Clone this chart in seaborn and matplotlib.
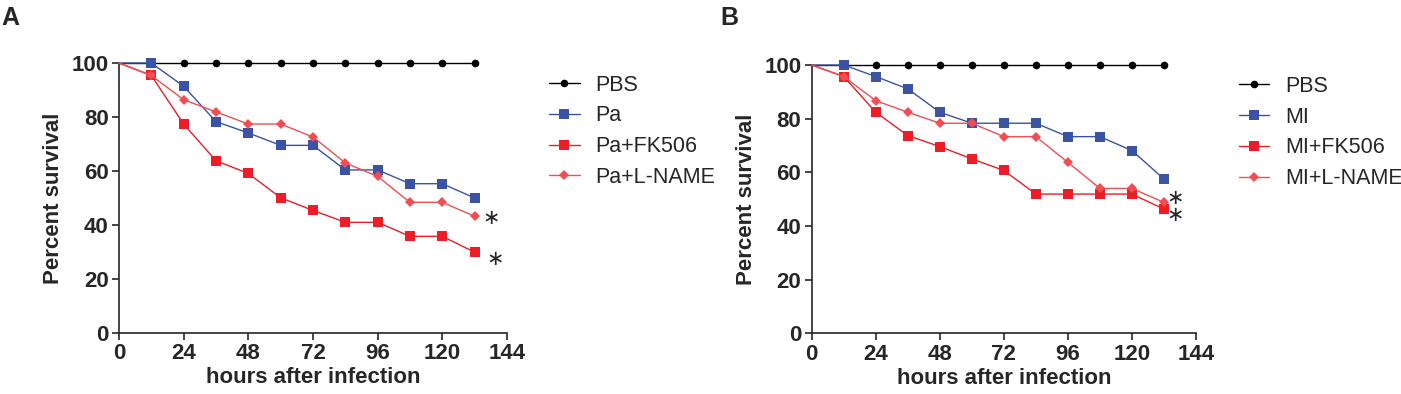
import numpy as np
import pandas as pd
import matplotlib
matplotlib.use('Agg')
import matplotlib.pyplot as plt
import seaborn as sns

sns.set_style('ticks')
plt.rcParams['font.family'] = ['Liberation Sans', 'DejaVu Sans']

# time points (hours), first point at 0 has no marker
hours = [0, 12, 24, 36, 48, 60, 72, 84, 96, 108, 120, 132]

# panel A
pbs_a = [100, 100, 100, 100, 100, 100, 100, 100, 100, 100, 100, 100]
pa = [100, 100, 91.4, 78.3, 74.1, 69.5, 69.5, 60.4, 60.4, 55.3, 55.3, 50.0]
pa_fk506 = [100, 95.4, 77.4, 63.8, 59.1, 50.1, 45.4, 41.0, 41.0, 35.8, 35.8, 29.9]
pa_lname = [100, 95.4, 86.4, 81.9, 77.4, 77.4, 72.6, 63.0, 58.0, 48.4, 48.4, 43.2]
labels_a = ['PBS', 'Pa', 'Pa+FK506', 'Pa+L-NAME']
stars_a = [(138, 42.5), (139.5, 27.5)]

# panel B
pbs_b = [100, 100, 100, 100, 100, 100, 100, 100, 100, 100, 100, 100]
mi = [100, 100, 95.7, 91.1, 82.4, 78.3, 78.3, 78.3, 73.3, 73.3, 68.1, 57.5]
mi_fk506 = [100, 95.7, 82.4, 73.7, 69.6, 65.0, 60.7, 51.9, 51.9, 51.9, 51.9, 46.3]
mi_lname = [100, 95.7, 86.7, 82.4, 78.3, 78.3, 73.3, 73.3, 63.7, 54.0, 54.0, 48.8]
labels_b = ['PBS', 'MI', 'MI+FK506', 'MI+L-NAME']
stars_b = [(136, 50.5), (136, 44.0)]

colors = ['black', '#3A53A4', '#EE1C25', '#F04E52']
markers = ['o', 's', 's', 'D']
msizes = [5.5, 6.5, 6.5, 4.8]

fig = plt.figure(figsize=(14.01, 3.94), dpi=100)
ax_a = fig.add_axes([0.0849, 0.1548, 0.2770, 0.6853])
ax_b = fig.add_axes([0.5794, 0.1540, 0.2743, 0.6810])


def draw(ax, series, labels, stars, leg_x, leg_y):
    for vals, lab, c, m, ms in zip(series, labels, colors, markers, msizes):
        sns.lineplot(x=hours, y=vals, ax=ax, color=c, marker=m, markersize=ms,
                     markeredgewidth=0, linewidth=1.0, label=lab,
                     markevery=slice(1, None), clip_on=False, zorder=3)
    ax.set_xlim(0, 144)
    ax.set_ylim(0, 100)
    ax.set_xticks(range(0, 145, 24))
    ax.set_yticks(range(0, 101, 20))
    ax.tick_params(direction='out', length=5, width=1.2, labelsize=16, pad=2.5)
    for t in ax.get_xticklabels() + ax.get_yticklabels():
        t.set_fontweight('bold')
    for s in ['top', 'right']:
        ax.spines[s].set_visible(False)
    for s in ['left', 'bottom']:
        ax.spines[s].set_linewidth(1.2)
    ax.set_xlabel('hours after infection', fontsize=16, fontweight='bold', labelpad=2)
    ax.set_ylabel('Percent survival', fontsize=16, fontweight='bold', labelpad=5)
    for sx, sy in stars:
        ax.text(sx, sy, '∗', fontsize=15, ha='center', va='center',
                family='DejaVu Sans', clip_on=False)
    ax.legend(loc='upper left', bbox_to_anchor=(leg_x, leg_y),
              bbox_transform=fig.transFigure, frameon=False, fontsize=15.5,
              handlelength=1.4, handletextpad=0.75, labelspacing=0.45,
              borderaxespad=0)


draw(ax_a, [pbs_a, pa, pa_fk506, pa_lname], labels_a, stars_a, 0.386, 0.832)
draw(ax_b, [pbs_b, mi, mi_fk506, mi_lname], labels_b, stars_b, 0.878, 0.829)

fig.text(0.001, 0.985, 'A', fontsize=18, fontweight='bold', va='top')
fig.text(0.514, 0.985, 'B', fontsize=18, fontweight='bold', va='top')

fig.savefig('out.png', dpi=100)
